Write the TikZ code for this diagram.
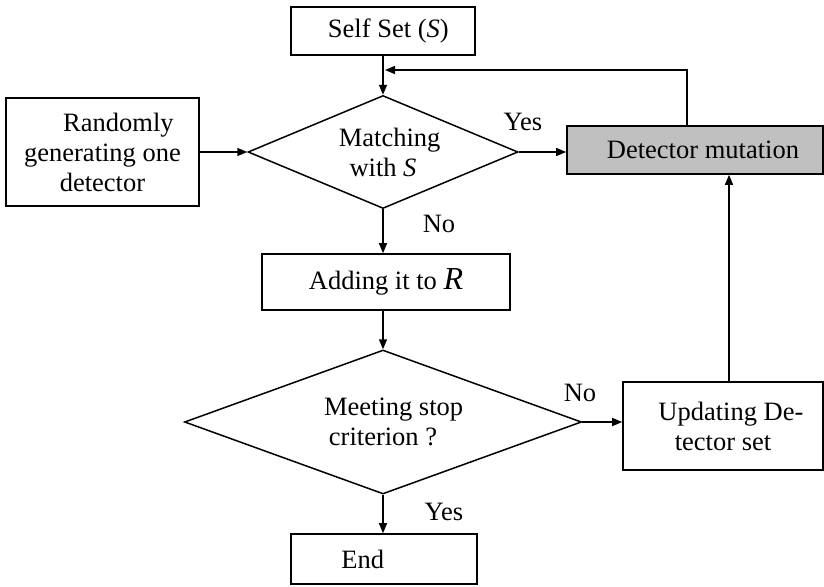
\documentclass[tikz,border=0pt]{standalone}
\usepackage{fontspec}
\setmainfont{Liberation Serif}
\usepackage{tikz}
\usetikzlibrary{arrows.meta,positioning,shapes.geometric,calc}
\definecolor{mutationgray}{HTML}{C0C0C0}
\definecolor{flowblack}{HTML}{000000}

\begin{document}
\begin{tikzpicture}[
  x=1pt, y=-1pt,
  font=\fontsize{26.5}{30}\selectfont,
  >={Triangle[length=10pt,width=8pt]},
  stepcard/.style={
    draw=flowblack,
    rectangle,
    line width=1.6pt,
    inner sep=0pt,
    align=center
  },
  testdiamond/.style={
    draw=flowblack,
    diamond,
    line width=1.5pt,
    inner sep=0pt,
    align=center
  },
  flowline/.style={
    ->,
    line width=1.5pt,
    draw=flowblack
  },
  flowlabel/.style={
    inner sep=0pt,
    anchor=center
  }
]
  \useasboundingbox (0,0) rectangle (824,586);

  % --- top: self set and the generator ---
  \node[stepcard, minimum width=184pt, minimum height=48pt] (self) at (383,31) {\hspace*{0.4em}Self Set (\textit{S})};

  \node[stepcard, minimum width=193pt, minimum height=108pt] (random) at (102.5,152) {
    \hspace*{1.2em}Randomly\\generating one\\detector};

  % --- matching test ---
  \node[testdiamond, aspect=2.4, minimum width=270pt, minimum height=113pt] (match) at (383,152) {
    \hspace*{0.5em}Matching\\with \textit{S}};

  \node[stepcard, fill=mutationgray, minimum width=256pt, minimum height=48pt] (mutation) at (695,150) {
    \hspace*{0.6em}Detector mutation};

  % --- middle: adding to R ---
  \node[stepcard, minimum width=248pt, minimum height=56pt] (adding) at (386,282) {
    Adding it to {\fontsize{32}{32}\selectfont\textit{R}}};

  % --- stop test ---
  \node[testdiamond, aspect=2.76, minimum width=397pt, minimum height=144pt] (stop) at (383,422) {
    \hspace*{0.8em}Meeting stop\\criterion ?};

  \node[stepcard, minimum width=200pt, minimum height=88pt] (update) at (723,426) {
    \hspace*{0.6em}Updating De-\\tector set};

  % --- bottom: end ---
  \node[stepcard, minimum width=186pt, minimum height=50pt] (end) at (384,559) {
    End\hspace*{1.6em}};

  \coordinate (back) at (385,70);

  % Connectors
  \draw[flowline] (self.south) -- (match.north);
  \draw[flowline] (random.east) -- (match.west);
  \draw[flowline] (match.east) -- (match.east -| mutation.west);
  \draw[flowline] (match.south) -- (match.south |- adding.north);
  \draw[flowline] (match.south |- adding.south) -- (stop.north);
  \draw[flowline] (stop.east) -- (stop.east -| update.west);
  \draw[flowline] (stop.south) -- (stop.south |- end.north);
  \draw[flowline] ([xshift=6pt]update.north) -- ([xshift=6pt]update.north |- mutation.south);
  \draw[flowline] ([xshift=-8pt]mutation.north) |- (back);

  % Branch labels
  \node[flowlabel] (yesmatch) at (523,122) {Yes};
  \node[flowlabel] (nomatch) at (439,224) {No};
  \node[flowlabel] (nostop) at (580,393) {No};
  \node[flowlabel] (yesstop) at (444,512) {Yes};

\end{tikzpicture}
\end{document}
